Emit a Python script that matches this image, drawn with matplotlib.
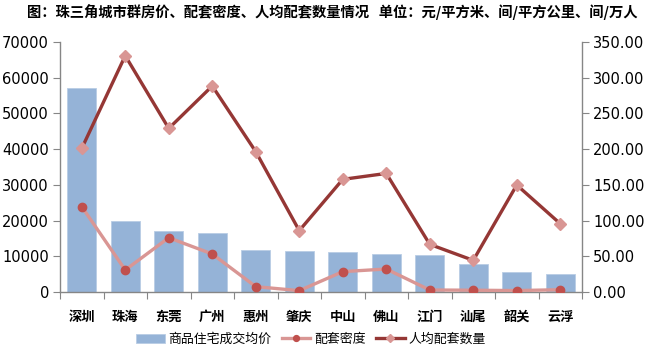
import numpy as np
import matplotlib
matplotlib.use("Agg")
import matplotlib.pyplot as plt

plt.rcParams['font.family'] = ['DejaVu Sans', 'Noto Sans CJK SC']

cities = ["深圳", "珠海", "东莞", "广州", "惠州", "肇庆", "中山", "佛山", "江门", "汕尾", "韶关", "云浮"]
price = [57000, 19900, 17100, 16500, 11700, 11400, 11200, 10650, 10450, 7850, 5600, 5050]
density = [119.5, 30.8, 76.0, 53.2, 7.5, 1.9, 28.5, 32.2, 2.8, 2.5, 2.0, 3.2]
per_capita = [201.0, 330.8, 229.0, 288.4, 196.5, 85.9, 157.7, 166.0, 66.7, 44.3, 149.8, 95.6]

title = "图：珠三角城市群房价、配套密度、人均配套数量情况   单位：元/平方米、间/平方公里、间/万人"

BAR = "#95B3D7"
DARK = "#953735"
PINK = "#D99694"
RED = "#C0504D"
AXIS = "#868686"
cjk = ['Noto Sans CJK SC', 'DejaVu Sans']

fig = plt.figure(figsize=(6.48, 3.48), dpi=100)
ax = fig.add_axes([60 / 648, 1 - 292 / 348, 522 / 648, 250 / 348])
x = np.arange(len(cities))

ax.bar(x, price, width=0.67, color=BAR, edgecolor="#B9CDE5", linewidth=0.6, zorder=2,
       label="商品住宅成交均价")
ax.set_xlim(-0.5, len(cities) - 0.5)
ax.set_ylim(0, 70000)
ax.set_yticks(np.arange(0, 70001, 10000))
ax.set_xticks(np.arange(-0.5, len(cities), 1.0))
ax.set_xticklabels([])
ax.set_xticks(x, minor=True)
ax.set_xticklabels(cities, minor=True, fontsize=9.5, fontweight="bold", family=cjk)
ax.tick_params(axis="x", which="minor", length=0, pad=13)
ax.tick_params(axis="x", which="major", length=5, color=AXIS, direction="out")
ax.tick_params(axis="y", length=5, color=AXIS, direction="out", labelsize=10.5, pad=3)

ax2 = ax.twinx()
ax2.plot(x, density, color=PINK, lw=2.4, marker="o", ms=6, mfc=RED, mec=RED, zorder=3,
         label="配套密度")
ax2.plot(x, per_capita, color=DARK, lw=2.4, marker="D", ms=6, mfc=PINK, mec=PINK, zorder=4,
         label="人均配套数量")
ax2.set_ylim(0, 350)
ax2.set_yticks(np.arange(0, 351, 50))
ax2.set_yticklabels([f"{v:.2f}" for v in np.arange(0, 351, 50)])
ax2.tick_params(axis="y", length=5, color=AXIS, direction="out", labelsize=10.5, pad=3)

for a in (ax, ax2):
    a.spines["top"].set_visible(False)
    for s in ("left", "right", "bottom"):
        a.spines[s].set_color(AXIS)
        a.spines[s].set_linewidth(1.0)
ax.spines["right"].set_visible(False)
ax2.spines["left"].set_visible(False)
ax2.spines["bottom"].set_visible(False)

h1, l1 = ax.get_legend_handles_labels()
h2, l2 = ax2.get_legend_handles_labels()
fig.legend(h1 + h2, l1 + l2, loc="center", bbox_to_anchor=(0.48, 0.025), ncol=3,
           frameon=False, prop={"family": cjk, "size": 9.3}, handlelength=2.2,
           handletextpad=0.3, columnspacing=0.8, borderaxespad=0, markerscale=0.7)

fig.text(0.042, 0.965, title, fontsize=10.3, fontweight="bold", family=cjk, va="center")

fig.savefig("out.png", dpi=100)
